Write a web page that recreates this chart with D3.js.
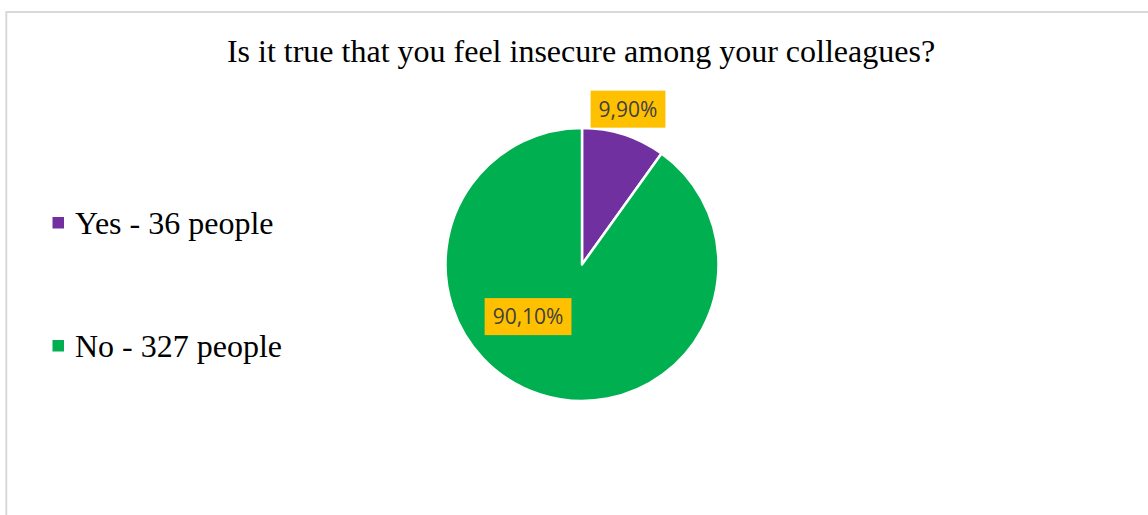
<!DOCTYPE html>
<html>
<head>
<meta charset="utf-8">
<script src="https://cdn.jsdelivr.net/npm/d3@7"></script>
<style>
  html, body { margin: 0; padding: 0; background: #fff; }
  svg { display: block; }
</style>
</head>
<body>
<svg width="1148" height="515"></svg>
<script>
// данные диаграммы
const chartTitle = "Is it true that you feel insecure among your colleagues?";
const answers = ["Yes", "No"];
const people = [36, 327];
const shares = [9.9, 90.1];
const colors = ["#7030A0", "#00B050"];

const svg = d3.select("svg");

// рамка области диаграммы
svg.append("rect")
  .attr("x", 6.3)
  .attr("y", 12)
  .attr("width", 1300)
  .attr("height", 700)
  .style("fill", "none")
  .style("stroke", "#d9d9d9")
  .style("stroke-width", 2);

// заголовок
svg.append("text")
  .attr("x", 581)
  .attr("y", 62)
  .attr("text-anchor", "middle")
  .style("font-family", "'Liberation Serif', 'Times New Roman', serif")
  .style("font-size", "32px")
  .style("fill", "#000")
  .text(chartTitle);

// круговая диаграмма
const cx = 582, cy = 264.5, radius = 136.5;
const pieData = d3.pie().sort(null)(shares);
const arc = d3.arc().innerRadius(0).outerRadius(radius);

const g = svg.append("g").attr("transform", `translate(${cx}, ${cy})`);

g.selectAll("path")
  .data(pieData)
  .enter()
  .append("path")
  .attr("d", arc)
  .style("fill", (d, i) => colors[i])
  .style("stroke", "#fff")
  .style("stroke-width", 2.5)
  .style("stroke-linejoin", "round");

// подписи долей (радиус и угол относительно центра)
const labelPlace = [
  { r: 162, angle: d => (d.startAngle + d.endAngle) / 2 - 0.023 },
  { r: 75, angle: d => 226 * Math.PI / 180 }
];
const fmt = v => d3.format(".2f")(v).replace(".", ",") + "%";

const labels = g.selectAll(".lbl")
  .data(pieData)
  .enter()
  .append("g")
  .attr("class", "lbl")
  .attr("transform", (d, i) => {
    const a = labelPlace[i].angle(d);
    const r = labelPlace[i].r;
    return `translate(${Math.sin(a) * r}, ${-Math.cos(a) * r})`;
  });

labels.append("text")
  .attr("text-anchor", "middle")
  .attr("dy", "0.35em")
  .style("font-family", "'Open Sans', sans-serif")
  .style("font-size", "21px")
  .style("fill", "#404040")
  .text(d => fmt(d.data))
  .each(function() {
    const bb = this.getBBox();
    d3.select(this.parentNode).insert("rect", "text")
      .attr("x", bb.x - 8)
      .attr("y", -18.5)
      .attr("width", bb.width + 16)
      .attr("height", 37)
      .style("fill", "#FFC000");
  });

// легенда
const legend = svg.append("g");
const legendY = d3.scalePoint().domain(answers).range([234, 357]);

const items = legend.selectAll(".item")
  .data(answers)
  .enter()
  .append("g")
  .attr("class", "item")
  .attr("transform", d => `translate(0, ${legendY(d)})`);

items.append("rect")
  .attr("x", 52.5)
  .attr("y", -17)
  .attr("width", 11.5)
  .attr("height", 11.5)
  .style("fill", (d, i) => colors[i]);

items.append("text")
  .attr("x", 75)
  .attr("y", 0)
  .style("font-family", "'Liberation Serif', 'Times New Roman', serif")
  .style("font-size", "32px")
  .style("fill", "#000")
  .text((d, i) => `${d} - ${people[i]} people`);
</script>
</body>
</html>
